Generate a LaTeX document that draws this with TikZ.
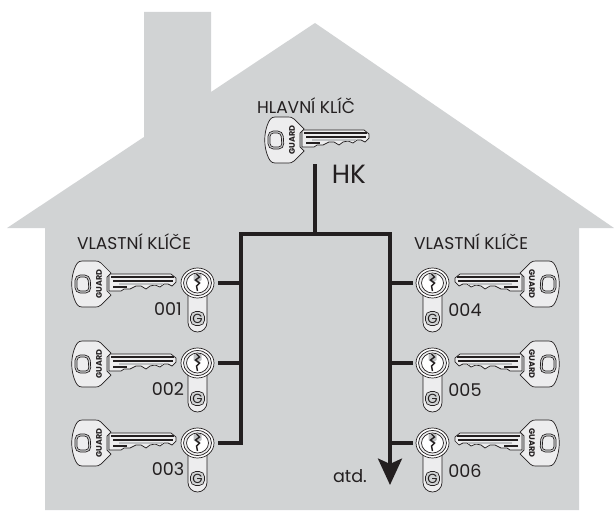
\documentclass[tikz,border=0pt]{standalone}
\usepackage{fontspec}
\setmainfont{Poppins}
\usetikzlibrary{arrows.meta}
\definecolor{housegray}{HTML}{D1D3D4}
\definecolor{inkblack}{HTML}{231F20}
\definecolor{keylight}{HTML}{EDEDEE}
\definecolor{keyshade}{HTML}{BFC1C3}
\tikzset{
	label text/.style={text=inkblack, font=\fontsize{9.7}{10}\selectfont, inner sep=0},
	number text/.style={text=inkblack, font=\fontsize{10}{10}\selectfont, inner sep=0},
	feed/.style={draw=inkblack, line width=2.3pt},
	key line/.style={draw=inkblack, line width=0.4pt},
	pics/guardkey/.style={code={
		\draw[key line, fill=keylight] (38,-10) -- (100,-10) -- (105,-6) -- (105,-2) -- (101,2) -- (97,0) -- (93,0)
			-- (89,3) -- (84,1) -- (79,2) -- (75,5) -- (70,2) -- (65,2) -- (59,5) -- (53,5) -- (50,7) -- (38,7) -- cycle;
		\draw[inkblack, line width=0.9pt] (40,-7) -- (103,-7);
		\draw[inkblack, line width=0.8pt] (42,-3) -- (102,-3);
		\draw[keyshade, line width=1pt] (48,0) -- (92,0);
		\draw[inkblack, line width=0.8pt] (42,3) -- (56,3);
		\draw[key line, fill=keylight] (40,-11) -- (30,-21) .. controls (28,-23) and (26,-23) .. (24,-23) -- (11,-23)
			.. controls (7,-23) and (5,-20) .. (3,-14) .. controls (0,-5) and (0,5) .. (3,14)
			.. controls (5,20) and (7,23) .. (11,23) -- (24,23) .. controls (26,23) and (28,23) .. (30,21)
			-- (40,11) -- (36,7) -- (36,-7) -- cycle;
		\draw[key line, fill=housegray, rounded corners=3pt] (4,-9) -- (19,-9) -- (20,9) -- (4,9) -- cycle;
		\draw[key line, fill=keylight, rounded corners=2pt] (6,-7) -- (17,-7) -- (18,7) -- (6,7) -- cycle;
		\node (brand) at (28,0) [rotate=#1, text=inkblack, inner sep=0, font=\fontsize{4.6}{5}\selectfont\bfseries] {GUARD};
	}},
	pics/lockbody/.style={code={
		\draw[key line, fill=keylight] (-9.5,10) -- (-9.5,39.5) arc (180:0:9.5) -- (9.5,10) -- cycle;
		\draw[key line, fill=white] (0,0) ellipse [x radius=16.5, y radius=15];
		\draw[key line, fill=keylight] (0,0) ellipse [x radius=14, y radius=12.5];
		\draw[key line, fill=white] (0,0) ellipse [x radius=11, y radius=10];
		\fill[keyshade] (-4,-9) -- (4,-9) -- (4,-3) -- (0,0) -- (-4,-3) -- cycle;
		\draw[inkblack, line width=0.8pt] (-1,-9) -- (2,-6) -- (-2,-3) -- (2,0) -- (-1,3) -- (0,8);
		\draw[key line, fill=housegray, rounded corners=3pt] (-7,28.5) rectangle (7,42.5);
		\node (logo) at (0,35.5) [text=inkblack, inner sep=0, font=\fontsize{7.5}{8}\selectfont] {G};
	}},
}
\begin{document}
\begin{tikzpicture}[x=0.02cm, y=-0.02cm]
	\useasboundingbox (0,0) rectangle (614,510);
	\fill[housegray] (45,510) -- (45,228) -- (7,228) -- (144,137) -- (144,12) -- (211,12) -- (211,92) -- (315,23)
		-- (614,228) -- (579,228) -- (579,510) -- cycle;

	\node[label text] (mainlabel) at (306,105.5) {HLAVNÍ KLÍČ};
	\pic (mainkey) at (264,140) {guardkey=90};
	\node[text=inkblack, inner sep=0, font=\fontsize{15}{15}\selectfont] (hk) at (349,174) {HK};

	\node[label text] (leftlabel) at (134,242) {VLASTNÍ KLÍČE};
	\node[label text] (rightlabel) at (471,242) {VLASTNÍ KLÍČE};

	\pic (key1) at (71,284) {guardkey=90};
	\pic (key2) at (71,364) {guardkey=90};
	\pic (key3) at (71,443) {guardkey=90};
	\pic (lock1) at (197.5,283) {lockbody};
	\pic (lock2) at (197.5,363) {lockbody};
	\pic (lock3) at (197.5,443) {lockbody};
	\node[number text] (num1) at (168,309) {001};
	\node[number text] (num2) at (168,389) {002};
	\node[number text] (num3) at (168,469) {003};

	\pic[xscale=-1] (key4) at (560,284) {guardkey=-90};
	\pic[xscale=-1] (key5) at (560,364) {guardkey=-90};
	\pic[xscale=-1] (key6) at (560,443) {guardkey=-90};
	\pic (lock4) at (432.5,283) {lockbody};
	\pic (lock5) at (432.5,363) {lockbody};
	\pic (lock6) at (432.5,443) {lockbody};
	\node[number text] (num4) at (465,310) {004};
	\node[number text] (num5) at (465,390) {005};
	\node[number text] (num6) at (465,471) {006};

	\node[number text] (more) at (350,476) {atd.};

	\coordinate (hkend) at (315,164);
	\coordinate (hkjoin) at (315,234);
	\coordinate (leftcorner) at (241,234);
	\coordinate (rightcorner) at (390,234);
	\coordinate (lefttail) at (241,443);
	\coordinate (righttip) at (390,485);
	\coordinate (leftjoin1) at (241,283);
	\coordinate (leftjoin2) at (241,363);
	\coordinate (rightjoin4) at (390,283);
	\coordinate (rightjoin5) at (390,363);
	\coordinate (rightjoin6) at (390,443);
	\coordinate (leftstub1) at (218,283);
	\coordinate (leftstub2) at (218,363);
	\coordinate (leftstub3) at (218,443);
	\coordinate (rightstub4) at (413,283);
	\coordinate (rightstub5) at (413,363);
	\coordinate (rightstub6) at (413,443);

	\draw[feed] (hkend) -- (hkjoin);
	\draw[feed, line cap=rect] (lefttail) -- (leftcorner) -- (rightcorner);
	\draw[feed, -{Stealth[length=15pt, width=13.6pt, inset=3pt]}] (rightcorner) -- (righttip);
	\draw[feed] (leftstub1) -- (leftjoin1);
	\draw[feed] (leftstub2) -- (leftjoin2);
	\draw[feed] (leftstub3) -- (lefttail);
	\draw[feed] (rightstub4) -- (rightjoin4);
	\draw[feed] (rightstub5) -- (rightjoin5);
	\draw[feed] (rightstub6) -- (rightjoin6);
\end{tikzpicture}
\end{document}
